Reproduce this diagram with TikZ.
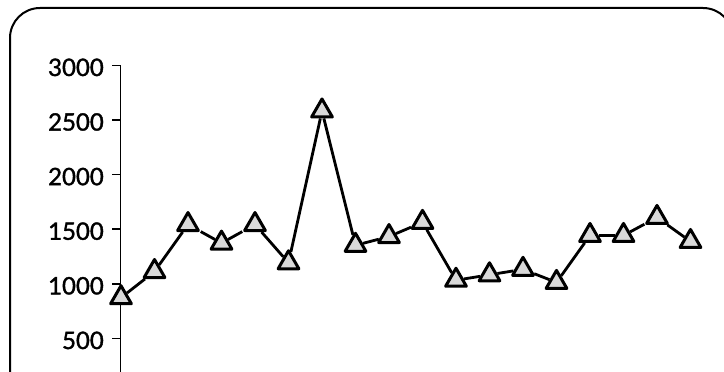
\documentclass[tikz,border=0pt]{standalone}
\usepackage{fontspec}
\setmainfont{Lato}
\newfontfamily\tickfont{Lato}[FakeBold=1.5]
\usetikzlibrary{shapes.geometric}

\begin{document}
\begin{tikzpicture}[x=1pt, y=1pt,
	frame/.style={line width=2pt, rounded corners=30pt},
	axisline/.style={line width=1.5pt},
	ticklabel/.style={anchor=east, inner sep=0pt, xshift=-8pt, yshift=-2pt, font=\tickfont\fontsize{24}{24}\selectfont},
	marker/.style={draw, fill=gray!30, line width=3pt, line join=round, regular polygon, regular polygon sides=3, minimum size=24pt, inner sep=0pt, yshift=-3pt},
	dataline/.style={line width=2.8pt}]

		\useasboundingbox (0,0) rectangle (724,372);
		\draw[frame] (10,-10) -- (10,364) -- (733,364) -- (733,-10);

		\begin{scope}[y=0.1092pt, yshift=-21pt]
			\draw[axisline] (112,3000) -- (120.5,3000) -- (120.5,0);
			\foreach \v in {500,1000,...,3000}{
				\draw[axisline] (112,\v) -- (120.5,\v);
				\node[ticklabel] (t\v) at (112,\v) {\v};
			}
			% readings
			\foreach \v [count=\i] in {900,1140,1570,1400,1570,1220,2610,1380,1460,1590,1060,1110,1160,1040,1470,1470,1635,1415}
				\node[marker] (p\i) at ({121+33.5*(\i-1)},\v) {};
			\foreach \i [evaluate=\i as \j using int(\i+1)] in {1,...,17}
				\draw[dataline] (p\i) -- (p\j);
		\end{scope}

\end{tikzpicture}
\end{document}
